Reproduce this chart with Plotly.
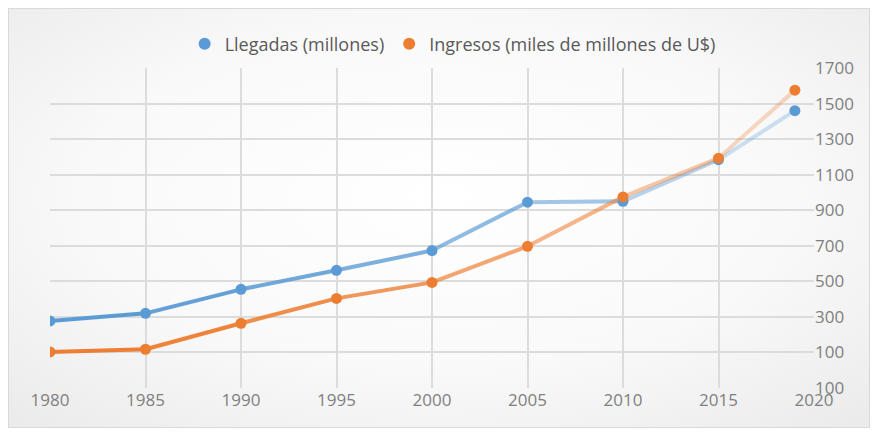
import base64
import plotly.graph_objects as go

years = [1980, 1985, 1990, 1995, 2000, 2005, 2010, 2015, 2019]
llegadas = [277, 320, 455, 562, 673, 945, 950, 1184, 1460]
ingresos = [103, 118, 264, 404, 494, 697, 975, 1193, 1575]
series_names = ["Llegadas (millones)", "Ingresos (miles de millones de U$)"]
x_ticks = [1980, 1985, 1990, 1995, 2000, 2005, 2010, 2015, 2020]
y_ticks = [-100, 100, 300, 500, 700, 900, 1100, 1300, 1500, 1700]
y_ticktext = ["100", "100", "300", "500", "700", "900", "1100", "1300", "1500", "1700"]

# figure sits at (8,8) in the page because of the body margin
W, H = 862, 420
L, R, T, B = 42, 56, 60, 40
pw, ph = W - L - R, H - T - B

colors = [(91, 155, 213), (237, 125, 49)]

fig = go.Figure()

def seg_opacity(xmid):
    f = max(0.0, (xmid - 1980) / 40.0)
    return 1 - 0.8 * f ** 1.6

for vals, (r, g, b) in zip([llegadas, ingresos], colors):
    for i in range(len(years) - 1):
        op = seg_opacity((years[i] + years[i + 1]) / 2)
        fig.add_trace(go.Scatter(
            x=years[i:i + 2], y=vals[i:i + 2], mode="lines",
            line=dict(color=f"rgba({r},{g},{b},{op:.3f})", width=4),
            showlegend=False, hoverinfo="skip"))

for name, vals, (r, g, b) in zip(series_names, [llegadas, ingresos], colors):
    fig.add_trace(go.Scatter(
        x=years, y=vals, mode="markers", name=name,
        marker=dict(color=f"rgb({r},{g},{b})", size=11)))

svg = f'''<svg xmlns="http://www.w3.org/2000/svg" width="{W}" height="{H}">
<defs><radialGradient id="g" cx="50%" cy="45%" r="75%">
<stop offset="0%" stop-color="#ffffff"/><stop offset="55%" stop-color="#f9f9f9"/><stop offset="100%" stop-color="#eaeaea"/>
</radialGradient></defs>
<rect x="0.5" y="0.5" width="{W-1}" height="{H-1}" fill="url(#g)" stroke="#d9d9d9" stroke-width="1"/></svg>'''
src = "data:image/svg+xml;base64," + base64.b64encode(svg.encode()).decode()

fig.add_layout_image(dict(
    source=src, xref="paper", yref="paper",
    x=-L / pw, y=(H - B) / ph,
    sizex=W / pw, sizey=H / ph,
    xanchor="left", yanchor="top", sizing="stretch", layer="below"))

tick_font = dict(family="Open Sans, Noto Sans, sans-serif", size=17, color="#808080")

fig.update_layout(
    width=W, height=H,
    margin=dict(l=L, r=R, t=T, b=B, autoexpand=False),
    paper_bgcolor="white", plot_bgcolor="rgba(0,0,0,0)",
    showlegend=True,
    legend=dict(orientation="h", x=0.527, xanchor="center", y=1.075, yanchor="middle",
                font=dict(family="Open Sans, Noto Sans, sans-serif", size=18, color="#595959"),
                itemsizing="constant", bgcolor="rgba(0,0,0,0)", itemwidth=30),
    xaxis=dict(range=[1980, 2020], tickvals=x_ticks, showgrid=True, gridcolor="#dcdcdc",
               gridwidth=2, zeroline=False, showline=False, tickfont=tick_font, ticks=""),
    yaxis=dict(range=[-100, 1700], tickvals=y_ticks, ticktext=y_ticktext, side="right",
               showgrid=True, gridcolor="#dcdcdc", gridwidth=2, zeroline=False,
               showline=False, tickfont=tick_font, ticks=""),
)

fig.write_html("out.html")
